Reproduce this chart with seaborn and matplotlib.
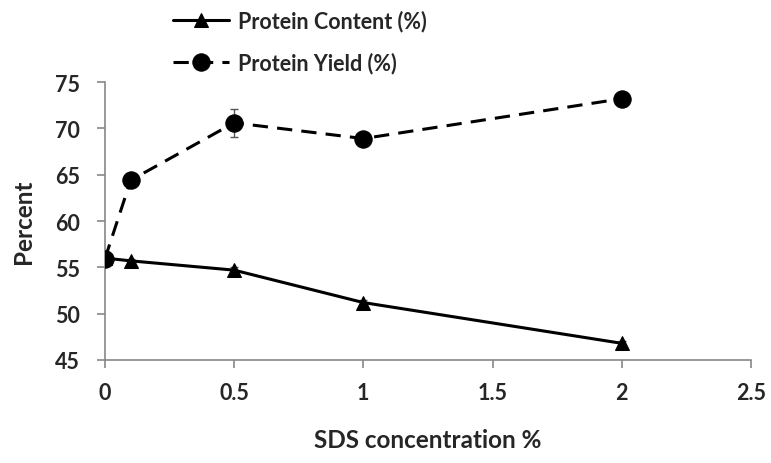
import matplotlib
matplotlib.use("Agg")
import matplotlib.pyplot as plt
import seaborn as sns
import pandas as pd

sds = [0, 0.1, 0.5, 1, 2]
protein_content = [56.0, 55.7, 54.7, 51.2, 46.8]
protein_content_err = [0.2, 0.2, 0.3, 0.3, 0.2]
protein_yield = [55.9, 64.4, 70.6, 68.9, 73.2]
protein_yield_err = [0.3, 0.4, 1.5, 0.4, 0.3]
x_ticks = [0, 0.5, 1, 1.5, 2, 2.5]
y_ticks = [45, 50, 55, 60, 65, 70, 75]

sns.set_theme(style="white")
plt.rcParams['font.family'] = ['Lato', 'DejaVu Sans']
plt.rcParams['font.weight'] = 'bold'

df = pd.DataFrame({"sds": sds, "content": protein_content, "yield": protein_yield})

fig = plt.figure(figsize=(7.71, 4.64), dpi=100)
ax = fig.add_axes([0.136, 0.222, 0.838, 0.599])

ax.errorbar(sds, protein_content, yerr=protein_content_err, fmt='none',
            ecolor='#555555', elinewidth=1, capsize=3, zorder=2)
ax.errorbar(sds, protein_yield, yerr=protein_yield_err, fmt='none',
            ecolor='#555555', elinewidth=1, capsize=3, zorder=2)

sns.lineplot(data=df, x="sds", y="content", ax=ax, color='black', linewidth=2.2,
             marker='^', markersize=10, markeredgecolor='black',
             label='Protein Content (%)', zorder=3)
sns.lineplot(data=df, x="sds", y="yield", ax=ax, color='black', linewidth=2.2,
             linestyle=(0, (5, 3)), marker='o', markersize=12.5,
             markeredgecolor='black', label='Protein Yield (%)', zorder=3)

ax.set_xlim(0, 2.5)
ax.set_ylim(45, 75)
ax.set_xticks(x_ticks)
ax.set_xticklabels([f"{t:g}" for t in x_ticks])
ax.set_yticks(y_ticks)
for s in ['top', 'right']:
    ax.spines[s].set_visible(False)
for s in ['left', 'bottom']:
    ax.spines[s].set_color('#888888')
    ax.spines[s].set_linewidth(1.2)
ax.tick_params(axis='both', which='both', direction='out', length=6, width=1.2,
               color='#888888', labelsize=15.5, bottom=True, left=True)
ax.tick_params(axis='x', pad=10)
ax.tick_params(axis='y', pad=12)
ax.set_xlabel("SDS concentration %", fontsize=17.5, fontweight='bold', labelpad=18)
ax.set_ylabel("Percent", fontsize=17.5, fontweight='bold', labelpad=14)

handles, labels = ax.get_legend_handles_labels()
ax.get_legend().remove()
leg = fig.legend(handles, labels, loc='upper left', bbox_to_anchor=(0.208, 1.005),
                 frameon=False, fontsize=15.5, handlelength=2.6, labelspacing=0.95,
                 handletextpad=0.4, borderpad=0.1)
for t in leg.get_texts():
    t.set_fontweight('bold')

fig.savefig("out.png", dpi=100)
